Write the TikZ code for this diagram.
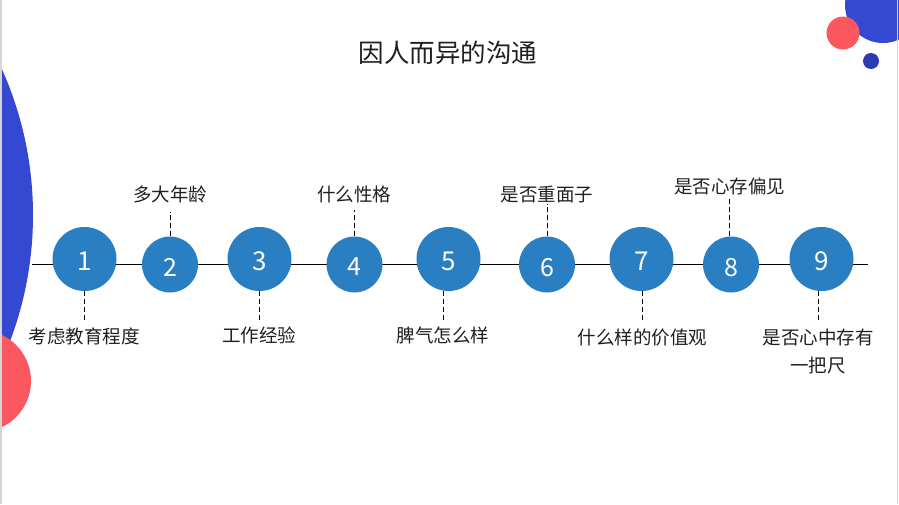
\documentclass[tikz,border=0pt]{standalone}
\usepackage{fontspec}
\newfontfamily\cjk{Noto Sans CJK SC}
\definecolor{stepblue}{RGB}{42,126,194}
\definecolor{decoblue}{RGB}{52,72,210}
\definecolor{decored}{RGB}{250,88,94}
\definecolor{framegray}{RGB}{212,212,212}
\tikzset{
  bigstep/.style={circle, fill=stepblue, minimum size=64pt, inner sep=0pt, text=white, font=\cjk\fontsize{26}{26}\selectfont},
  smallstep/.style={bigstep, minimum size=56pt, font=\cjk\fontsize{25}{25}\selectfont},
  notetext/.style={font=\cjk\fontsize{18.5}{28}\selectfont, text=black!88, inner sep=0pt, align=center},
  dashlink/.style={dash pattern=on 5pt off 3pt, line width=1pt},
}
\newcommand{\stepnum}[1]{\raisebox{-2.5pt}[\height][0pt]{#1}}
\begin{document}
\begin{tikzpicture}[x=1pt, y=-1pt]
  \useasboundingbox (0,0) rectangle (899,504);
  % Decoration circles, cut at the page edge
  \begin{scope}
    \clip (0,0) rectangle (899,504);
    \fill[decoblue] (-324,215) circle (357);
    \fill[decored] (-20,381) circle (51);
    \fill[decoblue] (883,5) circle (38);
    \fill[decored] (843,33) circle (16.5);
    \fill[decoblue!85!black] (871,61) circle (8);
  \end{scope}
  \draw[framegray, line width=1.5pt] (1,0) -- (1,504);
  \draw[framegray, line width=1.5pt] (897.5,0) -- (897.5,504);

  % Title
  \node[font=\cjk\fontsize{25.5}{30}\selectfont, text=black!88] (title) at (448,53) {因人而异的沟通};

  % Time line
  \coordinate (lineL) at (32,264);
  \coordinate (lineR) at (868,264);
  \draw[line width=1pt] (lineL) -- (lineR);

  % Step circles: odd ones bigger and a bit higher
  \foreach \i/\x in {1/84.5,3/259.5,5/448.5,7/641.5,9/821.5}
    \node[bigstep] (c\i) at (\x,259) {\stepnum{\i}};
  \foreach \i/\x in {2/170,4/354.5,6/547,8/731}
    \node[smallstep] (c\i) at (\x,264.5) {\stepnum{\i}};

  % Labels below the line
  \node[notetext, anchor=north] (l1) at (84,327.5) {考虑教育程度};
  \node[notetext, anchor=north] (l3) at (259,326.5) {工作经验};
  \node[notetext, anchor=north] (l5) at (443,326.5) {脾气怎么样};
  \node[notetext, anchor=north] (l7) at (642.5,328.5) {什么样的价值观};
  \node[notetext, anchor=north] (l9) at (818,328.5) {是否心中存有\\一把尺};
  % Labels above the line
  \node[notetext, anchor=south] (l2) at (170,203.5) {多大年龄};
  \node[notetext, anchor=south] (l4) at (354,203.5) {什么性格};
  \node[notetext, anchor=south] (l6) at (547,203.5) {是否重面子};
  \node[notetext, anchor=south] (l8) at (729.5,195.5) {是否心存偏见};

  % Dashed ticks
  \foreach \i/\gap in {1/7.5,3/4.5,5/3.5,7/6.5,9/8.5}
    \draw[dashlink, shorten >=\gap pt] (c\i.south -| l\i.north) -- (l\i.north);
  \foreach \i/\gap in {2/8.5,4/6.5,6/0,8/2.5}
    \draw[dashlink, shorten >=\gap pt] (c\i.north -| l\i.south) -- (l\i.south);
\end{tikzpicture}
\end{document}
